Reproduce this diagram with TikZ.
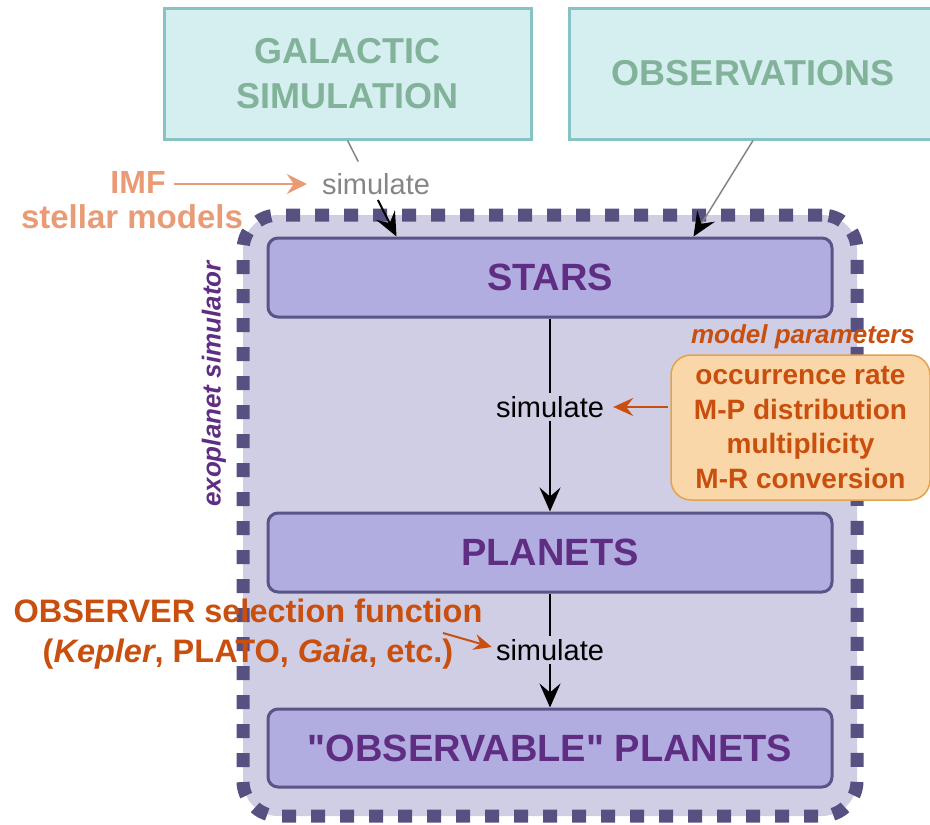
\documentclass[tikz,border=0pt]{standalone}
\usepackage{fontspec}
\setmainfont{Liberation Sans}
% same family without TeX ligatures, so that " stays a straight quote
\newfontfamily\straightsans{Liberation Sans}
\usetikzlibrary{arrows.meta,calc}

\definecolor{cyanfill}{HTML}{D5EFF0}
\definecolor{cyanline}{HTML}{87C2C4}
\definecolor{galtext}{HTML}{82B29A}
\definecolor{contfill}{HTML}{D0CEE4}
\definecolor{contline}{HTML}{575182}
\definecolor{stagefill}{HTML}{B2ADE0}
\definecolor{stageline}{HTML}{5A5487}
\definecolor{stagetext}{HTML}{5F2E82}
\definecolor{parfill}{HTML}{FAD7A8}
\definecolor{parline}{HTML}{E2A350}
\definecolor{redorange}{HTML}{C94F0E}
\definecolor{salmon}{HTML}{E99B76}
\definecolor{simgray}{HTML}{858585}

\tikzset{
  source/.style={draw=cyanline, fill=cyanfill, line width=3pt, text=galtext,
    font=\fontsize{36}{45}\selectfont\bfseries, align=center},
  simulator/.style={draw=contline, fill=contfill, line width=13pt,
    dash pattern=on 14pt off 15pt, rounded corners=35pt},
  stagebox/.style={draw=stageline, fill=stagefill, line width=3pt, rounded corners=10pt,
    text=stagetext, font=\straightsans\fontsize{38}{44}\selectfont\bfseries,
    minimum width=564pt, minimum height=79pt},
  simlabel/.style={font=\fontsize{29}{34}\selectfont, inner sep=3pt},
  flow/.style={line width=2pt, -{Stealth[length=24pt,width=21pt,inset=9pt]}},
  redarrow/.style={redorange, line width=2pt, -{Stealth[length=20pt,width=18pt,inset=7pt]}},
  notes/.style={text=redorange, font=\fontsize{32.5}{40}\selectfont\bfseries, align=center},
}

\begin{document}
\begin{tikzpicture}[x=1pt,y=-1pt]
\useasboundingbox (0,0) rectangle (930,825);

% input sources
\node[source, minimum width=367pt, minimum height=131pt] (gal) at (347.5,73.5) {GALACTIC\\SIMULATION};
\node[source, minimum width=368pt, minimum height=131pt] (obs) at (753,73.5) {OBSERVATIONS};

% exoplanet simulator frame
\node[simulator, minimum width=614pt, minimum height=601pt] (frame) at (550,515.5) {};
\node[rotate=90, text=stagetext, font=\fontsize{26}{30}\selectfont\bfseries\itshape] (frametitle) at (214,384) {exoplanet simulator};

% stages
\node[stagebox] (stars) at (550,277.5) {STARS};
\node[stagebox] (planets) at (550,552.5) {PLANETS};
\node[stagebox, minimum height=78pt] (observable) at (550,748) {"OBSERVABLE" PLANETS};

% stellar population
\node[simlabel, text=simgray] (simA) at (376,184) {simulate};
\coordinate (starsInA) at ($(stars.north west)+(130,0)$);
\coordinate (starsInB) at ($(stars.north east)+(-140,0)$);
\draw[simgray, line width=1.5pt] (gal.south) -- ($(gal.south)!0.22!(starsInA)$);
\draw[flow] ($(gal.south)!0.62!(starsInA)$) -- (starsInA);
\draw[simgray, line width=1.5pt, -{Stealth[length=24pt,width=21pt,inset=9pt,color=black]}] (obs.south) -- (starsInB);

\node[text=salmon, font=\fontsize{32}{40}\selectfont\bfseries] (imf) at (138,182) {IMF};
\node[text=salmon, font=\fontsize{33}{40}\selectfont\bfseries] (stellar) at (132,217) {stellar models};
\draw[salmon, line width=2pt, -{Stealth[length=20pt,width=20pt,inset=7pt]}] (imf.east) ++(5,2) -- ($(simA.west |- 0,184)+(-12,0)$);

% planet population
\node[simlabel] (simB) at (550,407) {simulate};
\draw[line width=2pt] (stars.south) -- (simB.north);
\draw[flow] (simB.south) -- (planets.north);

\node[text=redorange, font=\fontsize{26}{30}\selectfont\bfseries\itshape] (partitle) at (803,337) {model parameters};
\node[draw=parline, fill=parfill, line width=1.5pt, rounded corners=20pt,
  minimum width=259pt, minimum height=145pt, text=redorange,
  font=\fontsize{28}{34.5}\selectfont\bfseries, align=center] (params) at (800.5,427.5)
  {occurrence rate\\M-P distribution\\multiplicity\\M-R conversion};
\draw[redarrow] (simB.east -| params.west) ++(-2,0) -- ($(simB.east)+(6,0)$);

% observed population
\node[simlabel] (simC) at (550,650) {simulate};
\draw[line width=2pt] (planets.south) -- (simC.north);
\draw[flow] (simC.south) -- (observable.north);

\node[notes] (observer) at (248,634) {OBSERVER selection function\\(\textit{Kepler}, PLATO, \textit{Gaia}, etc.)};
\coordinate (obsTail) at (443,633);
\draw[redarrow, -{Stealth[length=18pt,width=16pt,inset=6pt]}] (obsTail) -- ($(simC.west)+(-1,-3)$);
\end{tikzpicture}
\end{document}
